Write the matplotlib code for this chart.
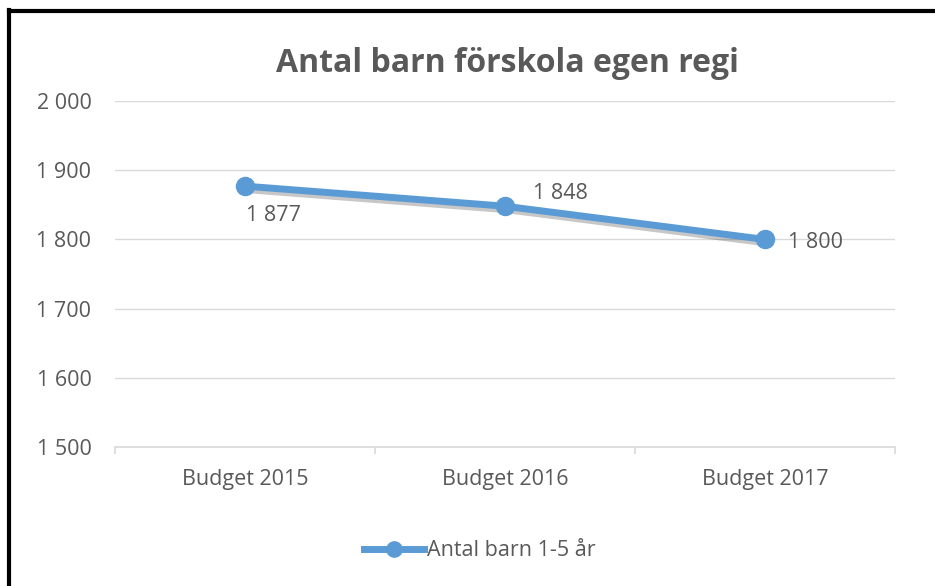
import matplotlib.pyplot as plt
import matplotlib.patheffects as pe
from matplotlib.ticker import FuncFormatter, FixedLocator
from matplotlib.lines import Line2D

categories = ["Budget 2015", "Budget 2016", "Budget 2017"]
values = [1877, 1848, 1800]
series_name = "Antal barn 1-5 år"
title = "Antal barn förskola egen regi"

BLUE = "#5B9BD5"
GRAY = "#595959"
GRID = "#D9D9D9"

plt.rcParams['font.family'] = ['Open Sans', 'DejaVu Sans']


def fmt(v, pos=None):
    return f"{int(v):,}".replace(",", " ")


fig = plt.figure(figsize=(9.35, 5.86), dpi=100)
ax = fig.add_axes([0.123, 0.2372, 0.834, 0.5904])

x = list(range(len(categories)))
shadow = [pe.SimpleLineShadow(offset=(1, -2.5), shadow_color="black", alpha=0.22), pe.Normal()]
ax.plot(x, values, color=BLUE, linewidth=5, solid_capstyle="round",
        path_effects=shadow, zorder=3)
ax.plot(x, values, linestyle="none", marker="o", markersize=13,
        color=BLUE, zorder=4)

ax.set_xlim(-0.5, 2.5)
ax.set_ylim(1500, 2000)
ax.set_yticks(range(1500, 2001, 100))
ax.yaxis.set_major_formatter(FuncFormatter(fmt))
ax.set_xticks(x)
ax.set_xticklabels(categories)
ax.xaxis.set_minor_locator(FixedLocator([-0.5, 0.5, 1.5, 2.5]))

ax.grid(axis="y", color=GRID, linewidth=1)
ax.set_axisbelow(True)
for s in ["top", "right", "left"]:
    ax.spines[s].set_visible(False)
ax.spines["bottom"].set_color(GRID)
ax.spines["bottom"].set_linewidth(1.2)

ax.tick_params(axis="y", length=0, labelsize=15.5, labelcolor=GRAY, pad=17)
ax.tick_params(axis="x", which="major", length=0, labelsize=15.5, labelcolor=GRAY, pad=16)
ax.tick_params(axis="x", which="minor", length=5, color=GRID, width=1.2)

# data labels (offsets in points from each marker)
offsets = [(1, -21, "left"), (20, 9, "left"), (17, -2, "left")]
for xi, v, (dx, dy, ha) in zip(x, values, offsets):
    ax.annotate(fmt(v), (xi, v), xytext=(dx, dy), textcoords="offset points",
                ha=ha, va="center", fontsize=15.5, color=GRAY)

fig.text(0.543, 0.892, title, ha="center", va="center", fontsize=23,
         fontweight="bold", color=GRAY)

handle = Line2D([], [], color=BLUE, linewidth=5, marker="o", markersize=11)
fig.legend([handle], [series_name], loc="center", bbox_to_anchor=(0.513, 0.06),
           frameon=False, fontsize=15.5, labelcolor=GRAY, handlelength=2.8,
           handletextpad=0.1)

# frame lines left and top
fig.add_artist(Line2D([0.0095, 0.0095], [0, 0.983], color="black", linewidth=3,
                      transform=fig.transFigure))
fig.add_artist(Line2D([0.0095, 1], [0.981, 0.981], color="black", linewidth=3,
                      transform=fig.transFigure))

fig.savefig("out.png", dpi=100)
